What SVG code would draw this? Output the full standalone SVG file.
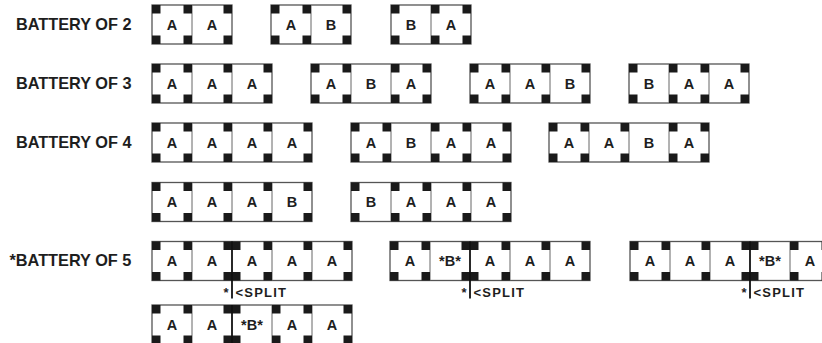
<svg xmlns="http://www.w3.org/2000/svg" width="822" height="343" viewBox="0 0 822 343">
<style>
text{font-family:"Liberation Sans",Arial,sans-serif;font-weight:bold;fill:#1e1e1e}
.lbl{font-size:16.3px}
.c{font-size:14.5px;text-anchor:middle}
.s{font-size:13px;letter-spacing:1.2px}
.box{fill:#fff;stroke:#555;stroke-width:1.3}
.dv{stroke:#666;stroke-width:1}
.sp{stroke:#111;stroke-width:1.8}
.b{fill:#1a1a1a}
</style>
<rect width="822" height="343" fill="#fff"/>
<g id="labels">
<text class="lbl" x="16" y="30">BATTERY OF 2</text>
<text class="lbl" x="16" y="89">BATTERY OF 3</text>
<text class="lbl" x="16" y="148">BATTERY OF 4</text>
<text class="lbl" x="9.5" y="265.5">*BATTERY OF 5</text>
</g>

<!-- Battery of 2 -->
<g id="b2a" transform="translate(152,5)">
<rect class="box" width="80" height="39"/><line class="dv" x1="40" y1="0" x2="40" y2="39"/>
<rect class="b" x="0" y="0" width="8.5" height="8.5"/><rect class="b" x="0" y="30.5" width="8.5" height="8.5"/>
<rect class="b" x="31.5" y="0" width="8.5" height="8.5"/><rect class="b" x="31.5" y="30.5" width="8.5" height="8.5"/>
<rect class="b" x="71.5" y="0" width="8.5" height="8.5"/><rect class="b" x="71.5" y="30.5" width="8.5" height="8.5"/>
<text class="c" x="20" y="24.8">A</text><text class="c" x="60" y="24.8">A</text>
</g>
<g id="b2b" transform="translate(271,5)">
<rect class="box" width="80" height="39"/><line class="dv" x1="40" y1="0" x2="40" y2="39"/>
<rect class="b" x="0" y="0" width="8.5" height="8.5"/><rect class="b" x="0" y="30.5" width="8.5" height="8.5"/>
<rect class="b" x="31.5" y="0" width="8.5" height="8.5"/><rect class="b" x="31.5" y="30.5" width="8.5" height="8.5"/>
<rect class="b" x="71.5" y="0" width="8.5" height="8.5"/><rect class="b" x="71.5" y="30.5" width="8.5" height="8.5"/>
<text class="c" x="20" y="24.8">A</text><text class="c" x="60" y="24.8">B</text>
</g>
<g id="b2c" transform="translate(391,5)">
<rect class="box" width="80" height="39"/><line class="dv" x1="40" y1="0" x2="40" y2="39"/>
<rect class="b" x="0" y="0" width="8.5" height="8.5"/><rect class="b" x="0" y="30.5" width="8.5" height="8.5"/>
<rect class="b" x="40" y="0" width="8.5" height="8.5"/><rect class="b" x="40" y="30.5" width="8.5" height="8.5"/>
<rect class="b" x="71.5" y="0" width="8.5" height="8.5"/><rect class="b" x="71.5" y="30.5" width="8.5" height="8.5"/>
<text class="c" x="20" y="24.8">B</text><text class="c" x="60" y="24.8">A</text>
</g>

<!-- Battery of 3 -->
<g id="b3a" transform="translate(152,64)">
<rect class="box" width="120" height="39"/><line class="dv" x1="40" y1="0" x2="40" y2="39"/><line class="dv" x1="80" y1="0" x2="80" y2="39"/>
<rect class="b" x="0" y="0" width="8.5" height="8.5"/><rect class="b" x="0" y="30.5" width="8.5" height="8.5"/>
<rect class="b" x="31.5" y="0" width="8.5" height="8.5"/><rect class="b" x="31.5" y="30.5" width="8.5" height="8.5"/>
<rect class="b" x="71.5" y="0" width="8.5" height="8.5"/><rect class="b" x="71.5" y="30.5" width="8.5" height="8.5"/>
<rect class="b" x="111.5" y="0" width="8.5" height="8.5"/><rect class="b" x="111.5" y="30.5" width="8.5" height="8.5"/>
<text class="c" x="20" y="24.8">A</text><text class="c" x="60" y="24.8">A</text><text class="c" x="100" y="24.8">A</text>
</g>
<g id="b3b" transform="translate(311,64)">
<rect class="box" width="120" height="39"/><line class="dv" x1="40" y1="0" x2="40" y2="39"/><line class="dv" x1="80" y1="0" x2="80" y2="39"/>
<rect class="b" x="0" y="0" width="8.5" height="8.5"/><rect class="b" x="0" y="30.5" width="8.5" height="8.5"/>
<rect class="b" x="31.5" y="0" width="8.5" height="8.5"/><rect class="b" x="31.5" y="30.5" width="8.5" height="8.5"/>
<rect class="b" x="80" y="0" width="8.5" height="8.5"/><rect class="b" x="80" y="30.5" width="8.5" height="8.5"/>
<rect class="b" x="111.5" y="0" width="8.5" height="8.5"/><rect class="b" x="111.5" y="30.5" width="8.5" height="8.5"/>
<text class="c" x="20" y="24.8">A</text><text class="c" x="60" y="24.8">B</text><text class="c" x="100" y="24.8">A</text>
</g>
<g id="b3c" transform="translate(470,64)">
<rect class="box" width="120" height="39"/><line class="dv" x1="40" y1="0" x2="40" y2="39"/><line class="dv" x1="80" y1="0" x2="80" y2="39"/>
<rect class="b" x="0" y="0" width="8.5" height="8.5"/><rect class="b" x="0" y="30.5" width="8.5" height="8.5"/>
<rect class="b" x="31.5" y="0" width="8.5" height="8.5"/><rect class="b" x="31.5" y="30.5" width="8.5" height="8.5"/>
<rect class="b" x="71.5" y="0" width="8.5" height="8.5"/><rect class="b" x="71.5" y="30.5" width="8.5" height="8.5"/>
<rect class="b" x="111.5" y="0" width="8.5" height="8.5"/><rect class="b" x="111.5" y="30.5" width="8.5" height="8.5"/>
<text class="c" x="20" y="24.8">A</text><text class="c" x="60" y="24.8">A</text><text class="c" x="100" y="24.8">B</text>
</g>
<g id="b3d" transform="translate(629,64)">
<rect class="box" width="120" height="39"/><line class="dv" x1="40" y1="0" x2="40" y2="39"/><line class="dv" x1="80" y1="0" x2="80" y2="39"/>
<rect class="b" x="0" y="0" width="8.5" height="8.5"/><rect class="b" x="0" y="30.5" width="8.5" height="8.5"/>
<rect class="b" x="40" y="0" width="8.5" height="8.5"/><rect class="b" x="40" y="30.5" width="8.5" height="8.5"/>
<rect class="b" x="71.5" y="0" width="8.5" height="8.5"/><rect class="b" x="71.5" y="30.5" width="8.5" height="8.5"/>
<rect class="b" x="111.5" y="0" width="8.5" height="8.5"/><rect class="b" x="111.5" y="30.5" width="8.5" height="8.5"/>
<text class="c" x="20" y="24.8">B</text><text class="c" x="60" y="24.8">A</text><text class="c" x="100" y="24.8">A</text>
</g>

<!-- Battery of 4 -->
<g id="b4a" transform="translate(152,123)">
<rect class="box" width="160" height="39"/><line class="dv" x1="40" y1="0" x2="40" y2="39"/><line class="dv" x1="80" y1="0" x2="80" y2="39"/><line class="dv" x1="120" y1="0" x2="120" y2="39"/>
<rect class="b" x="0" y="0" width="8.5" height="8.5"/><rect class="b" x="0" y="30.5" width="8.5" height="8.5"/>
<rect class="b" x="31.5" y="0" width="8.5" height="8.5"/><rect class="b" x="31.5" y="30.5" width="8.5" height="8.5"/>
<rect class="b" x="71.5" y="0" width="8.5" height="8.5"/><rect class="b" x="71.5" y="30.5" width="8.5" height="8.5"/>
<rect class="b" x="111.5" y="0" width="8.5" height="8.5"/><rect class="b" x="111.5" y="30.5" width="8.5" height="8.5"/>
<rect class="b" x="151.5" y="0" width="8.5" height="8.5"/><rect class="b" x="151.5" y="30.5" width="8.5" height="8.5"/>
<text class="c" x="20" y="24.8">A</text><text class="c" x="60" y="24.8">A</text><text class="c" x="100" y="24.8">A</text><text class="c" x="140" y="24.8">A</text>
</g>
<g id="b4b" transform="translate(351,123)">
<rect class="box" width="160" height="39"/><line class="dv" x1="40" y1="0" x2="40" y2="39"/><line class="dv" x1="80" y1="0" x2="80" y2="39"/><line class="dv" x1="120" y1="0" x2="120" y2="39"/>
<rect class="b" x="0" y="0" width="8.5" height="8.5"/><rect class="b" x="0" y="30.5" width="8.5" height="8.5"/>
<rect class="b" x="31.5" y="0" width="8.5" height="8.5"/><rect class="b" x="31.5" y="30.5" width="8.5" height="8.5"/>
<rect class="b" x="80" y="0" width="8.5" height="8.5"/><rect class="b" x="80" y="30.5" width="8.5" height="8.5"/>
<rect class="b" x="111.5" y="0" width="8.5" height="8.5"/><rect class="b" x="111.5" y="30.5" width="8.5" height="8.5"/>
<rect class="b" x="151.5" y="0" width="8.5" height="8.5"/><rect class="b" x="151.5" y="30.5" width="8.5" height="8.5"/>
<text class="c" x="20" y="24.8">A</text><text class="c" x="60" y="24.8">B</text><text class="c" x="100" y="24.8">A</text><text class="c" x="140" y="24.8">A</text>
</g>
<g id="b4c" transform="translate(549,123)">
<rect class="box" width="160" height="39"/><line class="dv" x1="40" y1="0" x2="40" y2="39"/><line class="dv" x1="80" y1="0" x2="80" y2="39"/><line class="dv" x1="120" y1="0" x2="120" y2="39"/>
<rect class="b" x="0" y="0" width="8.5" height="8.5"/><rect class="b" x="0" y="30.5" width="8.5" height="8.5"/>
<rect class="b" x="31.5" y="0" width="8.5" height="8.5"/><rect class="b" x="31.5" y="30.5" width="8.5" height="8.5"/>
<rect class="b" x="71.5" y="0" width="8.5" height="8.5"/><rect class="b" x="71.5" y="30.5" width="8.5" height="8.5"/>
<rect class="b" x="120" y="0" width="8.5" height="8.5"/><rect class="b" x="120" y="30.5" width="8.5" height="8.5"/>
<rect class="b" x="151.5" y="0" width="8.5" height="8.5"/><rect class="b" x="151.5" y="30.5" width="8.5" height="8.5"/>
<text class="c" x="20" y="24.8">A</text><text class="c" x="60" y="24.8">A</text><text class="c" x="100" y="24.8">B</text><text class="c" x="140" y="24.8">A</text>
</g>
<g id="b4d" transform="translate(152,182.5)">
<rect class="box" width="160" height="39"/><line class="dv" x1="40" y1="0" x2="40" y2="39"/><line class="dv" x1="80" y1="0" x2="80" y2="39"/><line class="dv" x1="120" y1="0" x2="120" y2="39"/>
<rect class="b" x="0" y="0" width="8.5" height="8.5"/><rect class="b" x="0" y="30.5" width="8.5" height="8.5"/>
<rect class="b" x="31.5" y="0" width="8.5" height="8.5"/><rect class="b" x="31.5" y="30.5" width="8.5" height="8.5"/>
<rect class="b" x="71.5" y="0" width="8.5" height="8.5"/><rect class="b" x="71.5" y="30.5" width="8.5" height="8.5"/>
<rect class="b" x="111.5" y="0" width="8.5" height="8.5"/><rect class="b" x="111.5" y="30.5" width="8.5" height="8.5"/>
<rect class="b" x="151.5" y="0" width="8.5" height="8.5"/><rect class="b" x="151.5" y="30.5" width="8.5" height="8.5"/>
<text class="c" x="20" y="24.8">A</text><text class="c" x="60" y="24.8">A</text><text class="c" x="100" y="24.8">A</text><text class="c" x="140" y="24.8">B</text>
</g>
<g id="b4e" transform="translate(351,182.5)">
<rect class="box" width="160" height="39"/><line class="dv" x1="40" y1="0" x2="40" y2="39"/><line class="dv" x1="80" y1="0" x2="80" y2="39"/><line class="dv" x1="120" y1="0" x2="120" y2="39"/>
<rect class="b" x="0" y="0" width="8.5" height="8.5"/><rect class="b" x="0" y="30.5" width="8.5" height="8.5"/>
<rect class="b" x="40" y="0" width="8.5" height="8.5"/><rect class="b" x="40" y="30.5" width="8.5" height="8.5"/>
<rect class="b" x="71.5" y="0" width="8.5" height="8.5"/><rect class="b" x="71.5" y="30.5" width="8.5" height="8.5"/>
<rect class="b" x="111.5" y="0" width="8.5" height="8.5"/><rect class="b" x="111.5" y="30.5" width="8.5" height="8.5"/>
<rect class="b" x="151.5" y="0" width="8.5" height="8.5"/><rect class="b" x="151.5" y="30.5" width="8.5" height="8.5"/>
<text class="c" x="20" y="24.8">B</text><text class="c" x="60" y="24.8">A</text><text class="c" x="100" y="24.8">A</text><text class="c" x="140" y="24.8">A</text>
</g>

<!-- Battery of 5 -->
<g id="b5a" transform="translate(152,241.5)">
<rect class="box" width="200" height="39"/><line class="dv" x1="40" y1="0" x2="40" y2="39"/><line class="dv" x1="120" y1="0" x2="120" y2="39"/><line class="dv" x1="160" y1="0" x2="160" y2="39"/>
<rect class="b" x="0" y="0" width="8.5" height="8.5"/><rect class="b" x="0" y="30.5" width="8.5" height="8.5"/>
<rect class="b" x="31.5" y="0" width="8.5" height="8.5"/><rect class="b" x="31.5" y="30.5" width="8.5" height="8.5"/>
<rect class="b" x="71.5" y="0" width="17" height="8.5"/><rect class="b" x="71.5" y="30.5" width="17" height="8.5"/>
<rect class="b" x="111.5" y="0" width="8.5" height="8.5"/><rect class="b" x="111.5" y="30.5" width="8.5" height="8.5"/>
<rect class="b" x="151.5" y="0" width="8.5" height="8.5"/><rect class="b" x="151.5" y="30.5" width="8.5" height="8.5"/>
<rect class="b" x="191.5" y="0" width="8.5" height="8.5"/><rect class="b" x="191.5" y="30.5" width="8.5" height="8.5"/>
<line class="sp" x1="80" y1="0" x2="80" y2="57"/>
<text class="c" x="20" y="24.8">A</text><text class="c" x="60" y="24.8">A</text><text class="c" x="100" y="24.8">A</text><text class="c" x="140" y="24.8">A</text><text class="c" x="180" y="24.8">A</text>
<text class="s" x="76.5" y="55" text-anchor="end" style="letter-spacing:0">*</text><text class="s" x="83.5" y="55">&lt;SPLIT</text>
</g>
<g id="b5b" transform="translate(390,241.5)">
<rect class="box" width="200" height="39"/><line class="dv" x1="40" y1="0" x2="40" y2="39"/><line class="dv" x1="120" y1="0" x2="120" y2="39"/><line class="dv" x1="160" y1="0" x2="160" y2="39"/>
<rect class="b" x="0" y="0" width="8.5" height="8.5"/><rect class="b" x="0" y="30.5" width="8.5" height="8.5"/>
<rect class="b" x="31.5" y="0" width="8.5" height="8.5"/><rect class="b" x="31.5" y="30.5" width="8.5" height="8.5"/>
<rect class="b" x="71.5" y="0" width="17" height="8.5"/><rect class="b" x="71.5" y="30.5" width="17" height="8.5"/>
<rect class="b" x="111.5" y="0" width="8.5" height="8.5"/><rect class="b" x="111.5" y="30.5" width="8.5" height="8.5"/>
<rect class="b" x="151.5" y="0" width="8.5" height="8.5"/><rect class="b" x="151.5" y="30.5" width="8.5" height="8.5"/>
<rect class="b" x="191.5" y="0" width="8.5" height="8.5"/><rect class="b" x="191.5" y="30.5" width="8.5" height="8.5"/>
<line class="sp" x1="80" y1="0" x2="80" y2="57"/>
<text class="c" x="20" y="24.8">A</text><text class="c" x="60" y="24.8">*B*</text><text class="c" x="100" y="24.8">A</text><text class="c" x="140" y="24.8">A</text><text class="c" x="180" y="24.8">A</text>
<text class="s" x="76.5" y="55" text-anchor="end" style="letter-spacing:0">*</text><text class="s" x="83.5" y="55">&lt;SPLIT</text>
</g>
<g id="b5c" transform="translate(630,241.5)">
<rect class="box" width="200" height="39"/><line class="dv" x1="40" y1="0" x2="40" y2="39"/><line class="dv" x1="80" y1="0" x2="80" y2="39"/><line class="dv" x1="160" y1="0" x2="160" y2="39"/>
<rect class="b" x="0" y="0" width="8.5" height="8.5"/><rect class="b" x="0" y="30.5" width="8.5" height="8.5"/>
<rect class="b" x="31.5" y="0" width="8.5" height="8.5"/><rect class="b" x="31.5" y="30.5" width="8.5" height="8.5"/>
<rect class="b" x="71.5" y="0" width="8.5" height="8.5"/><rect class="b" x="71.5" y="30.5" width="8.5" height="8.5"/>
<rect class="b" x="111.5" y="0" width="17" height="8.5"/><rect class="b" x="111.5" y="30.5" width="17" height="8.5"/>
<rect class="b" x="160" y="0" width="8.5" height="8.5"/><rect class="b" x="160" y="30.5" width="8.5" height="8.5"/>
<rect class="b" x="191.5" y="0" width="8.5" height="8.5"/><rect class="b" x="191.5" y="30.5" width="8.5" height="8.5"/>
<line class="sp" x1="120" y1="0" x2="120" y2="57"/>
<text class="c" x="20" y="24.8">A</text><text class="c" x="60" y="24.8">A</text><text class="c" x="100" y="24.8">A</text><text class="c" x="140" y="24.8">*B*</text><text class="c" x="180" y="24.8">A</text>
<text class="s" x="116.5" y="55" text-anchor="end" style="letter-spacing:0">*</text><text class="s" x="123.5" y="55">&lt;SPLIT</text>
</g>
<g id="b5d" transform="translate(152,305)">
<rect class="box" width="200" height="39"/><line class="dv" x1="40" y1="0" x2="40" y2="39"/><line class="dv" x1="120" y1="0" x2="120" y2="39"/><line class="dv" x1="160" y1="0" x2="160" y2="39"/>
<rect class="b" x="0" y="0" width="8.5" height="8.5"/><rect class="b" x="0" y="30.5" width="8.5" height="8.5"/>
<rect class="b" x="31.5" y="0" width="8.5" height="8.5"/><rect class="b" x="31.5" y="30.5" width="8.5" height="8.5"/>
<rect class="b" x="71.5" y="0" width="17" height="8.5"/><rect class="b" x="71.5" y="30.5" width="17" height="8.5"/>
<rect class="b" x="120" y="0" width="8.5" height="8.5"/><rect class="b" x="120" y="30.5" width="8.5" height="8.5"/>
<rect class="b" x="151.5" y="0" width="8.5" height="8.5"/><rect class="b" x="151.5" y="30.5" width="8.5" height="8.5"/>
<rect class="b" x="191.5" y="0" width="8.5" height="8.5"/><rect class="b" x="191.5" y="30.5" width="8.5" height="8.5"/>
<line class="sp" x1="80" y1="0" x2="80" y2="39"/>
<text class="c" x="20" y="24.8">A</text><text class="c" x="60" y="24.8">A</text><text class="c" x="100" y="24.8">*B*</text><text class="c" x="140" y="24.8">A</text><text class="c" x="180" y="24.8">A</text>
</g>
</svg>
